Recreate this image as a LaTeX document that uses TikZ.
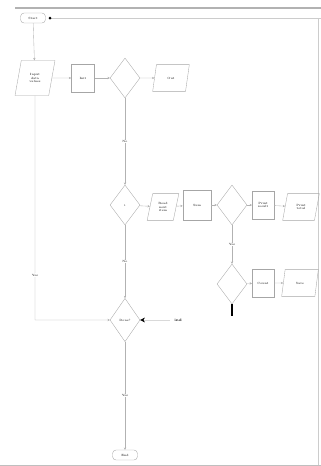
\documentclass[tikz,border=0pt]{standalone}
\usepackage{tikz}
\usetikzlibrary{shapes.geometric}
\usetikzlibrary{arrows.meta}

\tikzset{
  flow/.style={draw=gray!70,line width=0.3pt,font=\fontsize{2.6}{3}\selectfont,align=center,inner sep=1pt},
  term/.style={flow,rectangle,rounded corners=3pt,minimum width=0.75cm,minimum height=0.3cm},
  inout/.style={flow,trapezium,trapezium left angle=75,trapezium right angle=105,
    trapezium stretches=true,minimum width=1.1cm,minimum height=0.8cm},
  proc/.style={flow,rectangle,minimum width=0.7cm,minimum height=0.85cm},
  cond/.style={flow,diamond,aspect=0.75,minimum width=0.9cm,minimum height=1.2cm},
  link/.style={draw=gray!60,line width=0.3pt,-{Stealth[length=2pt,width=2pt]}},
  lbl/.style={font=\fontsize{2.6}{3}\selectfont,fill=white,inner sep=0.5pt}
}

\begin{document}
\begin{tikzpicture}[x=0.03cm,y=-0.03cm]
\useasboundingbox (0,0) rectangle (321,466);
% frame
\draw[gray!60,line width=1.2pt] (15,8) -- (321,8);
\draw[gray!40,line width=0.4pt] (50,18) -- (321,18);
\draw[gray!40,line width=0.4pt] (318,18) -- (318,466);
\draw[gray!50,line width=0.6pt] (0,465) -- (321,465);
\fill[black] (50,18) circle(1.5);

% top part
\node[term] (start) at (33,18) {Start};
\node[inout,minimum width=1.2cm,minimum height=1.05cm] (input) at (35,78) {Input\\data\\values};
\node[proc] (init) at (83,78) {Init};
\node[cond] (c1) at (125,78) {};
\node[inout] (out1) at (171,78) {Out};

% middle row
\node[cond] (c2) at (125,205) {i};
\node[inout,minimum width=0.95cm] (read) at (163,207) {Read\\next\\item};
\node[proc,minimum width=0.85cm,minimum height=0.9cm] (sum) at (197,205) {Sum};
\node[cond] (c3) at (232,205) {};
\node[proc,minimum width=0.65cm] (print) at (263,205) {Print\\result};
\node[inout] (out2) at (301,207) {Print\\total};

% lower row
\node[cond] (c4) at (232,284) {};
\node[proc,minimum width=0.65cm] (count) at (263,283) {Count};
\node[inout] (save) at (300,283) {Save};

% bottom
\node[cond,minimum height=1.3cm] (c5) at (125,320) {Done?};
\node[font=\fontsize{3}{3.5}\selectfont\bfseries] (ind) at (178,320) {ind};
\node[term] (stop) at (125,455) {End};

% connectors
\draw[link] (start) -- (input);
\draw[link] (input) -- (init);
\draw[link] (init) -- (c1);
\draw[link] (c1) -- (out1);
\draw[link] (c1) -- node[lbl] {No} (c2);
\draw[link] (c2) -- (read);
\draw[link] (read) -- (sum);
\draw[link] (sum) -- (c3);
\draw[link] (c3) -- (print);
\draw[link] (print) -- (out2);
\draw[link] (c3) -- node[lbl] {Yes} (c4);
\draw[link] (c4) -- (count);
\draw[link] (count) -- (save);
\draw[black,line width=1pt] (c4.south) -- ++(0,12);
\draw[link] (c2) -- node[lbl] {No} (c5);
\draw[link] (input.south) -- node[lbl,pos=0.8] {Yes} (35,320) -- (c5.west);
\draw[draw=gray!30,line width=0.3pt,-{Stealth[length=4pt,width=4pt,black]}] (ind) -- (c5.east);
\draw[link] (c5) -- node[lbl] {Yes} (stop);
\end{tikzpicture}
\end{document}
